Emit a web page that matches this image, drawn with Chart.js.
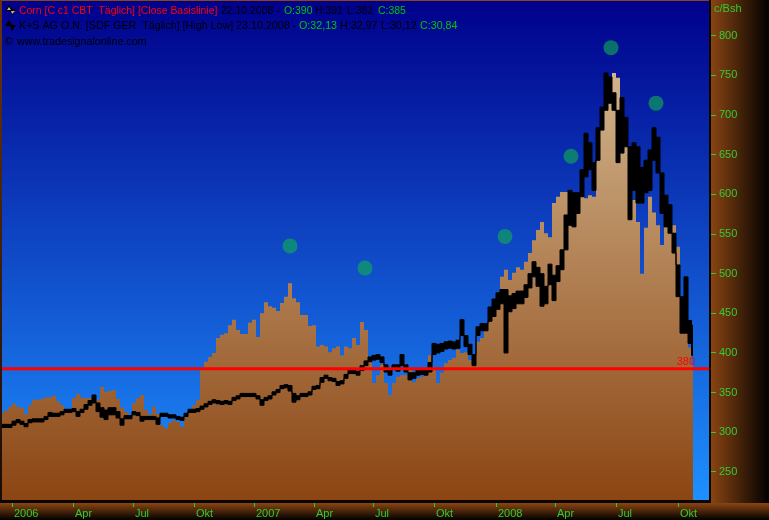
<!DOCTYPE html>
<html>
<head>
<meta charset="utf-8">
<style>html,body{margin:0;padding:0;background:#000}canvas{display:block}</style>
<script src="https://cdn.jsdelivr.net/npm/chart.js@4"></script>
</head>
<body>
<canvas id="c" width="769" height="520"></canvas>
<script>
const cornClose = [
324,327,332,336,332,331,323,334,341,341,
342,344,344,346,339,334,327,329,343,348,
344,343,343,337,341,357,351,352,353,342,
331,326,322,337,343,347,328,322,332,323,
309,305,312,315,313,307,319,326,334,341,
381,389,395,400,419,423,425,435,442,429,
424,424,438,442,420,450,464,459,457,453,
463,471,488,469,464,448,448,434,435,408,
410,408,401,406,408,397,408,406,419,410,
439,429,395,362,372,385,362,347,362,370,
372,372,379,363,368,370,381,397,382,362,
375,387,391,394,404,400,401,391,395,414,
419,429,448,463,477,496,505,492,501,508,
505,515,526,542,555,565,551,546,589,597,
603,603,593,584,589,608,595,599,597,643,
694,710,715,753,747,690,669,652,593,565,
500,558,597,577,561,536,559,552,561,534,
467,425,407,385];
const ksHigh = [
310,310,310,314,316,314,311,316,317,317,
317,320,325,324,324,326,329,329,330,326,
329,335,340,347,337,331,328,331,331,326,
317,321,321,326,325,320,320,320,320,318,
324,324,322,322,320,319,324,329,329,330,
333,336,339,341,340,339,340,339,344,346,
349,349,349,349,346,341,344,346,351,354,
359,360,359,349,346,349,349,351,358,359,
369,372,369,368,364,365,373,378,378,377,
384,390,395,397,398,395,385,379,385,385,
398,385,375,375,380,379,379,388,412,411,
412,414,415,414,416,442,422,411,398,433,
437,437,458,468,476,480,480,472,475,478,
478,486,500,515,508,500,484,512,498,510,
530,574,605,602,602,631,677,665,640,684,
710,753,748,728,706,722,697,660,665,660,
634,643,656,684,672,627,599,587,551,511,
471,496,441,435];
const ksLow = [
306,306,306,309,312,310,307,312,313,313,
313,316,320,320,320,322,325,325,326,320,
325,329,334,337,326,319,316,322,322,318,
309,317,317,322,321,314,316,316,316,310,
320,320,318,318,316,315,320,325,325,326,
329,332,335,337,336,335,336,335,340,342,
345,345,345,345,342,334,340,342,347,350,
355,356,352,338,341,345,345,347,354,355,
363,368,365,364,359,361,368,374,374,372,
378,384,389,391,392,388,376,372,379,377,
384,376,366,368,372,373,372,376,398,400,
402,405,406,405,406,422,408,398,384,422,
428,428,440,446,455,462,400,452,456,462,
462,470,482,496,484,459,462,486,466,490,
505,530,561,559,576,597,622,631,605,643,
681,706,715,706,640,652,660,568,605,589,
589,602,605,643,627,576,559,551,526,471,
425,425,412,397];
const barStep = 4;
const lastBar = 691;
const signalBars = [288,363,503,569,609,654];
const signalValues = [535,507,547,648,785,715];
const basisLevel = 380;
const priceTicks = [250,300,350,400,450,500,550,600,650,700,750,800];
const timeTickBars = [10,71,131,192,252,312,371,432,494,553,614,676];
const timeTickLabels = ['2006','Apr','Jul','Okt','2007','Apr','Jul','Okt','2008','Apr','Jul','Okt'];

const GREEN = '#32cd32', RED = '#ff0000', FAMILY = '"Liberation Sans", Arial, sans-serif';
const canvas = document.getElementById('c');
const ctx = canvas.getContext('2d');
const barX = i => Math.min(i * barStep, lastBar);
const series = a => a.map((v, i) => ({x: barX(i), y: v}));

const areaGrad = ctx.createLinearGradient(0, 73, 0, 500);
areaGrad.addColorStop(0, '#d2b48c');
areaGrad.addColorStop(1, '#8b4513');

function runs(c, y, size, parts) {
  c.font = size + 'px ' + FAMILY;
  parts.forEach(([t, x, col]) => { c.fillStyle = col; c.fillText(t, x, y); });
}
function poly(c, col, pts) {
  c.fillStyle = col; c.beginPath();
  pts.forEach(([x, y], i) => i ? c.lineTo(x, y) : c.moveTo(x, y));
  c.closePath(); c.fill();
}

const framePlugin = {
  id: 'frame',
  beforeDraw(ch) {
    const c = ch.ctx, w = ch.width, h = ch.height;
    let g = c.createLinearGradient(710, 0, w, 0);
    g.addColorStop(0, '#8b4513'); g.addColorStop(1, '#000000');
    c.fillStyle = g; c.fillRect(0, 0, w, h);
    g = c.createLinearGradient(0, 503, 0, h);
    g.addColorStop(0, '#8b4513'); g.addColorStop(1, '#000000');
    c.fillStyle = g; c.fillRect(0, 503, w, h - 503);
    g = c.createLinearGradient(0, 0, 0, 500);
    g.addColorStop(0, '#00008b'); g.addColorStop(1, '#1e90ff');
    c.fillStyle = g; c.fillRect(2, 1, 707, 499);
    g = c.createLinearGradient(0, 0, 0, 500);
    g.addColorStop(0, '#6a3410'); g.addColorStop(1, '#1a0c04');
    c.fillStyle = g; c.fillRect(0, 0, 2, 503);
  },
  afterDatasetsDraw(ch) {
    const c = ch.ctx;
    c.save();
    c.fillStyle = '#0a0604';
    c.fillRect(0, 500, 711, 3);
    c.fillRect(709, 0, 2, 503);
    c.textBaseline = 'alphabetic'; c.textAlign = 'left';
    runs(c, 14, 10.45, [
      ['Corn [C c1 CBT  Täglich] [Close Basislinie]', 19, RED],
      ['22.10.2008 -', 221, '#000'], ['O:390', 284, '#00c800'],
      ['H:391', 315, '#000'], ['L:382', 347, '#000'], ['C:385', 378, '#00c800']
    ]);
    runs(c, 29, 10.7, [
      ['K+S AG O.N. [SDF GER  Täglich] [High Low] 23.10.2008 -', 19, '#000'],
      ['O:32,13', 299, '#00c800'], ['H:32,97', 340, '#000'], ['L:30,12', 381, '#000'], ['C:30,84', 420, '#00c800']
    ]);
    runs(c, 45, 10.7, [['©', 5, '#000'], ['www.tradesignalonline.com', 17, '#000']]);
    // legend glyphs
    poly(c, '#000', [[5,11],[9,5],[12,9],[16,9],[12,15],[10,11]]);
    poly(c, '#d2b48c', [[7,10],[9,7],[11,10]]);
    poly(c, '#d2b48c', [[11,11],[15,11],[12,14]]);
    poly(c, '#000', [[5,26],[9,20],[12,25],[16,25],[12,31],[10,26]]);
    c.font = '11px ' + FAMILY;
    c.fillStyle = GREEN;
    c.fillText('c/Bsh', 714, 12);
    c.fillStyle = RED; c.textAlign = 'right';
    c.fillText(String(basisLevel), 695, ch.scales.y.getPixelForValue(basisLevel) - 4);
    c.restore();
  }
};

new Chart(ctx, {
  type: 'line',
  plugins: [framePlugin],
  data: { datasets: [
    { label: 'Signals', data: signalBars.map((b, i) => ({x: b, y: signalValues[i]})), showLine: false,
      pointRadius: 7.5, pointHoverRadius: 7.5, pointBorderWidth: 0,
      pointBackgroundColor: 'rgba(15,175,80,0.62)', order: 0 },
    { label: 'Basis', data: [{x: 0, y: basisLevel}, {x: 707, y: basisLevel}], borderColor: RED,
      borderWidth: 3, pointRadius: 0, fill: false, order: 1 },
    { label: 'K+S High', data: series(ksHigh), borderColor: '#000', borderWidth: 1, pointRadius: 0, fill: false, stepped: 'middle', order: 2 },
    { label: 'K+S Low', data: series(ksLow), borderColor: '#000', borderWidth: 1, pointRadius: 0, stepped: 'middle',
      fill: {target: 2}, backgroundColor: '#000', order: 3 },
    { label: 'Corn', data: series(cornClose), borderWidth: 0, borderColor: 'transparent', pointRadius: 0, stepped: 'middle',
      fill: 'start', backgroundColor: areaGrad, order: 4 }
  ]},
  options: {
    responsive: false, animation: false, devicePixelRatio: 1,
    layout: { autoPadding: false, padding: {top: 1, left: 2, right: 0, bottom: 0} },
    plugins: { legend: {display: false}, tooltip: {enabled: false}, title: {display: false} },
    scales: {
      x: {
        type: 'linear', position: 'bottom', min: 0, max: 707,
        afterBuildTicks(s) { s.ticks = timeTickBars.map(v => ({value: v})); },
        afterFit(s) { s.height = 20; s.paddingLeft = 0; s.paddingRight = 0; },
        grid: { drawOnChartArea: false, drawTicks: true, tickLength: 7, tickColor: GREEN, tickWidth: 1 },
        border: { display: false },
        ticks: { color: GREEN, font: {family: FAMILY, size: 11}, align: 'start',
          autoSkip: false, maxRotation: 0, padding: 0, labelOffset: 2,
          callback: (v, i) => timeTickLabels[i] }
      },
      y: {
        type: 'linear', position: 'right', min: 214.6, max: 843.8,
        afterBuildTicks(s) { s.ticks = priceTicks.map(v => ({value: v})); },
        afterFit(s) { s.width = 60; s.paddingTop = 0; s.paddingBottom = 0; },
        grid: { drawOnChartArea: false, drawTicks: true, tickLength: 7, tickColor: GREEN, tickWidth: 1 },
        border: { display: false },
        ticks: { color: GREEN, font: {family: FAMILY, size: 11}, padding: 3,
          autoSkip: false, callback: v => String(v) }
      }
    }
  }
});
</script>
</body>
</html>
